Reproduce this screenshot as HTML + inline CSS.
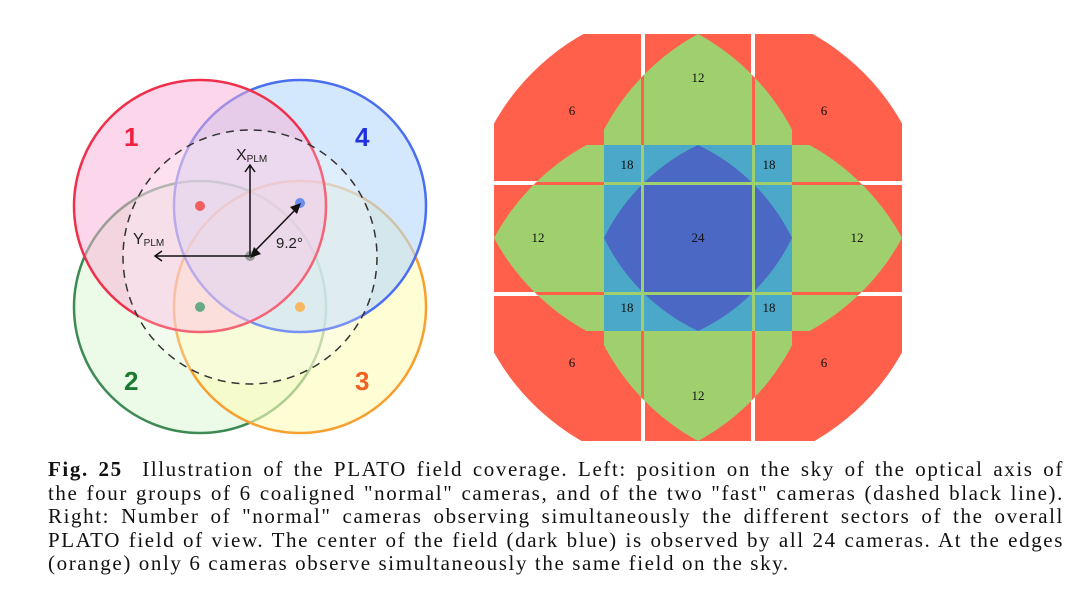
<!DOCTYPE html>
<html><head><meta charset="utf-8"><style>
body{margin:0;background:#fff;width:1075px;height:597px;overflow:hidden;position:relative}
.l{position:absolute;left:48px;width:1016px;font-family:"Liberation Serif",serif;font-size:21px;letter-spacing:1.6px;line-height:20px;white-space:nowrap;text-align:justify;text-align-last:justify;color:#111}
.l.last{text-align-last:left}
</style></head><body>
<svg width="1075" height="450" style="position:absolute;left:0;top:0" font-family="Liberation Sans, sans-serif">
<defs>
<clipPath id="outer"><path d="M494,34H902V441H494Z"/></clipPath>
<clipPath id="circ"><circle cx="698" cy="238" r="234"/></clipPath>
<clipPath id="gv"><path d="M698,34 A232,232 0 0 0 698,441 A232,232 0 0 0 698,34Z"/></clipPath>
<clipPath id="gh"><path d="M494,238 A232,232 0 0 0 902,238 A232,232 0 0 0 494,238Z"/></clipPath>
</defs>
<circle cx="200" cy="307" r="126" fill="#dff8d8" fill-opacity="0.6" stroke="#3d8a55" stroke-width="2.5"/>
<circle cx="300" cy="307" r="126" fill="#fdfbb8" fill-opacity="0.6" stroke="#f7a030" stroke-width="2.5"/>
<circle cx="300" cy="206" r="126" fill="#b8d8fb" fill-opacity="0.6" stroke="#4a6ef0" stroke-width="2.5"/>
<circle cx="200" cy="206" r="126" fill="#f9b0d8" fill-opacity="0.5" stroke="#f0304a" stroke-width="2.5"/>
<circle cx="250" cy="257" r="127" fill="#fff" fill-opacity="0.25" stroke="#333" stroke-width="1.5" stroke-dasharray="8,6"/>
<circle cx="200" cy="206" r="5" fill="#f06060"/>
<circle cx="300" cy="203" r="5" fill="#6a8ef0"/>
<circle cx="200" cy="307" r="5" fill="#6aaa88"/>
<circle cx="300" cy="307" r="5" fill="#f8b860"/>
<circle cx="250" cy="256" r="5" fill="#999"/>
<path d="M250,256V166M245,172L250,165L255,172M250,256H156M162,251L155,256L162,261" fill="none" stroke="#111" stroke-width="1.5"/>
<path d="M254,252L296,209" stroke="#111" stroke-width="1.5"/>
<path d="M301,203L290,207L297,214Z M250,258L261,254L254,247Z" fill="#111"/>
<text x="236" y="160" font-size="16" fill="#222">X<tspan font-size="10" dy="2">PLM</tspan></text>
<text x="133" y="244" font-size="16" fill="#222">Y<tspan font-size="10" dy="2">PLM</tspan></text>
<text x="276" y="248" font-size="15" fill="#222">9.2°</text>
<text x="124" y="146" font-size="26" font-weight="bold" fill="#f02040">1</text>
<text x="355" y="146" font-size="26" font-weight="bold" fill="#2030e0">4</text>
<text x="124" y="390" font-size="26" font-weight="bold" fill="#1a7a30">2</text>
<text x="355" y="390" font-size="26" font-weight="bold" fill="#f06020">3</text>
<g clip-path="url(#circ)"><g clip-path="url(#outer)">
<rect x="494" y="34" width="408" height="407" fill="#fe604b"/>
<g fill="#fff"><rect x="641" y="34" width="4" height="407"/><rect x="751" y="34" width="4" height="407"/><rect x="494" y="181" width="408" height="4"/><rect x="494" y="292" width="408" height="4"/></g>
<g clip-path="url(#gv)"><rect x="604" y="34" width="188" height="407" fill="#a0cf6e"/>
<g fill="#fe604b"><rect x="641" y="34" width="3" height="407"/><rect x="752" y="34" width="3" height="407"/><rect x="494" y="182" width="408" height="3"/><rect x="494" y="292" width="408" height="3"/></g></g>
<g clip-path="url(#gh)"><rect x="494" y="145" width="408" height="186" fill="#a0cf6e"/>
<g fill="#fe604b"><rect x="641" y="34" width="3" height="407"/><rect x="752" y="34" width="3" height="407"/><rect x="494" y="182" width="408" height="3"/><rect x="494" y="292" width="408" height="3"/></g></g>
</g></g>
<rect x="604" y="145" width="188" height="186" fill="#4ba8c8"/>
<path d="M698,145 A200,200 0 0 1 792,238 A200,200 0 0 1 698,331 A200,200 0 0 1 604,238 A200,200 0 0 1 698,145Z" fill="#4a68c4"/>
<g fill="#a0cf6e"><rect x="641" y="145" width="3" height="186"/><rect x="752" y="145" width="3" height="186"/><rect x="604" y="182" width="188" height="3"/><rect x="604" y="292" width="188" height="3"/></g>
<g font-family="Liberation Serif, serif" font-size="13" fill="#111" text-anchor="middle">
<text x="698" y="82">12</text><text x="698" y="400">12</text>
<text x="538" y="242">12</text><text x="857" y="242">12</text>
<text x="698" y="242">24</text>
<text x="572" y="115">6</text><text x="824" y="115">6</text>
<text x="572" y="367">6</text><text x="824" y="367">6</text>
<text x="627" y="169">18</text><text x="769" y="169">18</text>
<text x="627" y="312">18</text><text x="769" y="312">18</text>
</g>
</svg>
<div class="l" style="top:459px"><b>Fig. 25</b>&nbsp; Illustration of the PLATO field coverage. Left: position on the sky of the optical axis of</div>
<div class="l" style="top:483px">the four groups of 6 coaligned "normal" cameras, and of the two "fast" cameras (dashed black line).</div>
<div class="l" style="top:506px">Right: Number of "normal" cameras observing simultaneously the different sectors of the overall</div>
<div class="l" style="top:530px">PLATO field of view. The center of the field (dark blue) is observed by all 24 cameras. At the edges</div>
<div class="l last" style="top:553px">(orange) only 6 cameras observe simultaneously the same field on the sky.</div>
</body></html>
